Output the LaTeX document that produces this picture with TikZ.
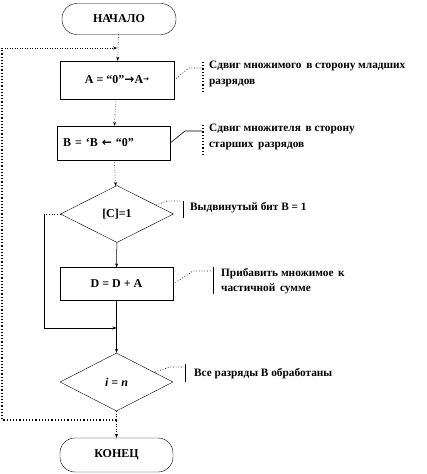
\documentclass[tikz,border=0pt]{standalone}
\usepackage{fontspec}
\setmainfont{Liberation Serif}
\newfontfamily\arrfont{DejaVu Sans}
\usetikzlibrary{shapes.geometric,arrows.meta}
\tikzset{
  mainfont/.style={font=\bfseries\fontsize{12}{14}\selectfont},
  notefont/.style={font=\bfseries\fontsize{11.3}{15.5}\selectfont},
  term/.style={draw, rectangle, rounded corners=15pt, minimum width=114pt, minimum height=31pt, inner sep=0pt, mainfont},
  box/.style={draw, rectangle, minimum width=114pt, minimum height=38pt, inner sep=0pt, mainfont},
  decision/.style={draw, diamond, minimum width=113pt, minimum height=57pt, inner sep=0pt, mainfont},
  note/.style={anchor=north west, align=left, inner sep=0pt, notefont},
  flow/.style={-{Stealth[length=4pt,width=3pt]}, line width=0.5pt},
  dflow/.style={flow, dotted, line width=0.7pt},
  dline/.style={dotted, line width=0.7pt},
  sline/.style={line width=0.6pt},
}
\begin{document}
\begin{tikzpicture}[x=1pt,y=-1pt]
\useasboundingbox (0,0) rectangle (427,474);
% main nodes
\node[term] (start) at (119,19) {НАЧАЛО};
\node[box] (A) at (117,80) {A = “0”{\arrfont\bfseries →}A\raisebox{2pt}{\arrfont\bfseries\fontsize{7}{8}\selectfont →}};
\node[box, minimum width=113pt, minimum height=34pt, text width=101pt, align=left] (B) at (113.5,143) {B = ‘B {\arrfont\bfseries ←} “0”};
\node[decision] (C) at (117,214) {[C]=1};
\node[box, minimum width=113pt, minimum height=33pt] (D) at (116.5,284) {D = D + A};
\node[decision, minimum height=58pt] (I) at (116.5,382) {\itshape i = n};
\node[term, minimum width=113pt, minimum height=34pt] (E) at (116.5,455) {КОНЕЦ};
% loop coordinates
\coordinate (lt) at (2,48);
\coordinate (lb) at (2,420);
\coordinate (cl) at (44,214);
\coordinate (cb) at (44,328);
% main flow
\draw[dflow] (start) -- (A);
\draw[dflow] (A) -- (B);
\draw[dflow] (B) -- (C);
\draw[flow] (C) -- (D);
\draw[flow] (D) -- (I);
\draw[dflow] (I) -- (E);
% bypass of D
\draw[dline] (C.west) -- (cl);
\draw[sline] (cl) -- (cb);
\draw[flow] (cb) -- (cb -| D.south);
% outer loop
\draw[dotted, line width=1.2pt] (I.south |- lb) -- (lb) -- (lt);
\draw[dflow] (lt) -- (lt -| A.north);
% annotation A
\coordinate (a1) at (189,68);
\coordinate (a2) at (203,68);
\draw[dline] (A.east |- 0,80) -- (a1) -- (a2);
\draw[dotted, line width=1.2pt] (203,62) -- (203,91);
\node[note] (na) at (209,61) {Сдвиг множимого\, в сторону младших\\разрядов};
% annotation B
\coordinate (b1) at (185,131);
\coordinate (b2) at (202,131);
\draw[sline] (B.east) -- (b1) -- (b2);
\draw[dotted, line width=1.2pt] (203,125) -- (203,156);
\node[note] (nb) at (209,124) {Сдвиг множителя\, в сторону\\старших\, разрядов};
% annotation C
\coordinate (c0) at (156,205);
\coordinate (c1) at (167,201);
\coordinate (c2) at (182,201);
\draw[dline] (c0) -- (c1) -- (c2);
\draw[sline] (183,201) -- (183,218);
\node[note] (nc) at (190,202) {Выдвинутый бит B = 1};
% annotation D
\coordinate (d1) at (193,271);
\coordinate (d2) at (212,271);
\draw[dline] (D.east) -- (d1) -- (d2);
\draw[sline] (213,267) -- (213,294);
\node[note] (nd) at (221,268) {Прибавить множимое\, к\\частичной\, сумме};
% annotation I
\coordinate (i0) at (155,372);
\coordinate (i1) at (170,367);
\coordinate (i2) at (184,367);
\draw[dline] (i0) -- (i1) -- (i2);
\draw[sline] (185,364) -- (185,382);
\node[note] (ni) at (194,368) {Все разряды B обработаны};
\end{tikzpicture}
\end{document}
